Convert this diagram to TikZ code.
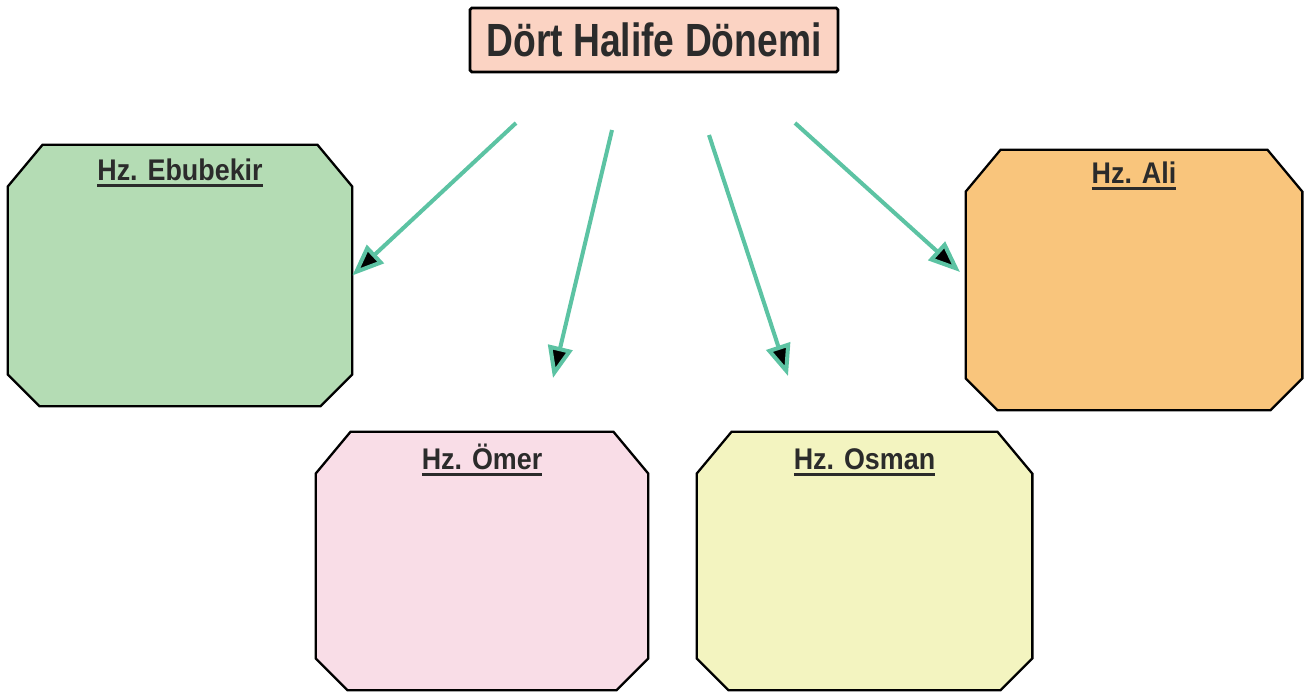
\documentclass[tikz,border=0pt]{standalone}
\usepackage{fontspec}
\usetikzlibrary{arrows.meta, backgrounds}
\newfontfamily\titlefont[FakeStretch=0.8]{Liberation Sans}
\newfontfamily\headfont[FakeStretch=0.9]{Liberation Sans}
\newcommand{\headline}[1]{\setbox0\hbox{#1}\rlap{\copy0}\rule[-3.2pt]{\wd0}{1.4pt}}
\definecolor{tealarrow}{HTML}{5CC3A3}
\definecolor{titlefill}{HTML}{FBD3C3}
\definecolor{greenfill}{HTML}{B4DCB4}
\definecolor{orangefill}{HTML}{F9C57C}
\definecolor{pinkfill}{HTML}{F9DDE7}
\definecolor{yellowfill}{HTML}{F3F4C0}
\definecolor{textgray}{HTML}{2B2B2B}
\def\unit{0.02cm}

\begin{document}
\begin{tikzpicture}[x=\unit, y=-\unit]
    \tikzstyle{title}=[draw=black, line width=1.6pt, fill=titlefill, rounded corners=1pt,
        minimum width=368*\unit, minimum height=64*\unit, inner sep=0pt,
        font=\titlefont\bfseries\fontsize{26.5}{26.5}\selectfont, text=textgray]
    \tikzstyle{caliph}=[rectangle, inner sep=0pt]
    \tikzstyle{outline}=[draw=black, line width=1.3pt, line join=miter]
    \tikzstyle{head}=[anchor=north, inner sep=0pt, text=textgray, text height=12.5pt,
        font=\headfont\bfseries\fontsize{17}{17}\selectfont]
    \tikzstyle{pointer}=[draw=tealarrow, line width=2.3pt,
        -{Triangle[length=18pt, width=14pt, fill=black]}]

    \useasboundingbox (0,0) rectangle (1309,696);

    % Title
    \node[title] (T) at (654,40) {Dört Halife Dönemi};

    % The four caliphs
    \node[caliph, minimum width=344*\unit, minimum height=261*\unit,
        label={[head, yshift=-14*\unit]north:\headline{Hz. Ebubekir}}] (C-1) at (180,275.5) {};
    \node[caliph, minimum width=332*\unit, minimum height=258*\unit,
        label={[head, yshift=-16*\unit]north:\headline{Hz. Ömer}}] (C-2) at (482,561) {};
    \node[caliph, minimum width=335*\unit, minimum height=258*\unit,
        label={[head, yshift=-16*\unit]north:\headline{Hz. Osman}}] (C-3) at (864.5,561) {};
    \node[caliph, minimum width=336*\unit, minimum height=260*\unit,
        label={[head, yshift=-12*\unit]north:\headline{Hz. Ali}}] (C-4) at (1134,280) {};

    % Chamfered outlines behind the labels
    \begin{scope}[on background layer]
    \foreach \n / \c in {1/greenfill, 2/pinkfill, 3/yellowfill, 4/orangefill}
        \path[outline, fill=\c]
            ([xshift=35*\unit]C-\n.north west) -- ([xshift=-35*\unit]C-\n.north east)
            -- ([yshift=-42*\unit]C-\n.north east) -- ([yshift=32*\unit]C-\n.south east)
            -- ([xshift=-32*\unit]C-\n.south east) -- ([xshift=32*\unit]C-\n.south west)
            -- ([yshift=32*\unit]C-\n.south west) -- ([yshift=-42*\unit]C-\n.north west)
            -- cycle;
    \end{scope}

    % Arrow ends
    \coordinate (S-1) at (516,123);
    \coordinate (S-2) at (612,130);
    \coordinate (S-3) at (709,135);
    \coordinate (S-4) at (795,123);
    \coordinate (E-2) at (553,378);
    \coordinate (E-3) at (788,376);
    \coordinate (E-4) at (960,272);

    % Arrows
    \draw[pointer] (S-1) -- (C-1.east);
    \draw[pointer] (S-2) -- (E-2);
    \draw[pointer] (S-3) -- (E-3);
    \draw[pointer] (S-4) -- (E-4);
\end{tikzpicture}
\end{document}
